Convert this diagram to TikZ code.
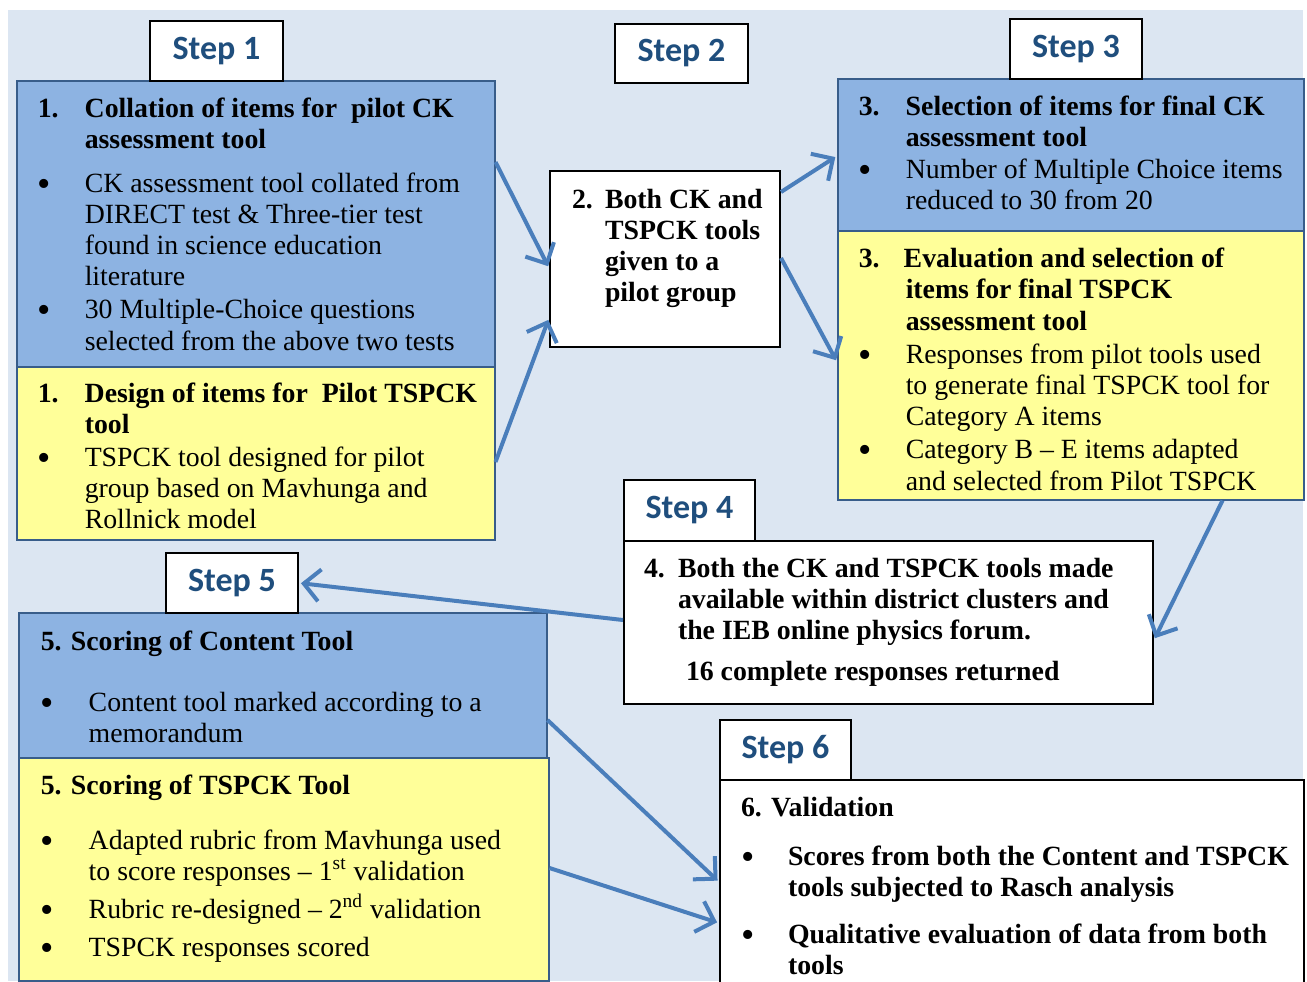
\documentclass[tikz,border=0pt]{standalone}
\usepackage{fontspec}
\setmainfont{Liberation Serif}
\newfontfamily\stepfont{Carlito}
\usetikzlibrary{arrows.meta}
\definecolor{pagebg}{RGB}{220,230,242}
\definecolor{ckblue}{RGB}{141,179,226}
\definecolor{tspyellow}{RGB}{255,255,153}
\definecolor{edgeblue}{RGB}{56,93,138}
\definecolor{arrowblue}{RGB}{74,126,187}
\definecolor{steptext}{RGB}{31,78,125}
\newcommand{\panel}[3]{\parbox[t][#2][t]{#1}{\raggedright\rightskip=-15pt plus 1fil\let\\\newline #3}}
\newcommand{\numline}[3]{\par\noindent\hangindent=#1\hangafter=1\makebox[#1][l]{#2}\strut\ignorespaces#3\par}
\newcommand{\blt}{\raisebox{-2pt}{\fontsize{19pt}{19pt}\selectfont\textbullet}}
\newcommand{\bulline}[2][23.5pt]{\numline{#1}{\blt}{#2}}
\newcommand{\headline}[1]{\par\noindent\strut\textbf{#1}\par}

\begin{document}
\begin{tikzpicture}[x=0.5pt,y=-0.5pt,
    box/.style={anchor=north west, inner ysep=0pt, inner xsep=10.5pt,
                font=\fontsize{13.9pt}{15.6pt}\selectfont},
    ckbox/.style={box, draw=edgeblue, line width=0.75pt, fill=ckblue},
    tspbox/.style={box, draw=edgeblue, line width=0.75pt, fill=tspyellow},
    plainbox/.style={box, draw=black, line width=1pt, fill=white},
    steplabel/.style={anchor=north west, draw=black, line width=1pt, fill=white,
                      text=steptext, font=\stepfont\bfseries\fontsize{17pt}{20pt}\selectfont},
    flow/.style={draw=arrowblue, line width=2pt, shorten >=1pt,
                 -{Straight Barb[length=8pt,width=16pt]}}]
  \useasboundingbox (0,0) rectangle (1307,981);
  \fill[pagebg] (8,10) rectangle (1303,981);

  % step 1
  \node[ckbox] (ck1) at (16,80) {\panel{218pt}{143pt}{\vspace*{7.6pt}
      \numline{23.5pt}{\textbf{1.}}{\textbf{Collation of items for\ \ pilot CK\\assessment tool}}
      \vspace{6pt}
      \bulline{CK assessment tool collated from\\DIRECT test \& Three-tier test\\found in science education\\literature}
      \vspace{1pt}
      \bulline{30 Multiple-Choice questions\\selected from the above two tests}}};
  \node[tspbox] (tsp1) at (16,366) {\panel{218pt}{86.5pt}{\vspace*{7.1pt}
      \numline{23.5pt}{\textbf{1.}}{\textbf{Design of items for\ \ Pilot TSPCK\\tool}}
      \vspace{0.5pt}
      \bulline{TSPCK tool designed for pilot\\group based on Mavhunga and\\Rollnick model}}};

  % step 2
  \node[plainbox, inner xsep=11pt] (pilot) at (549,170) {\panel{93pt}{88pt}{\vspace*{7.6pt}
      \numline{16.5pt}{\textbf{2.}}{\textbf{Both CK and\\TSPCK tools\\given to a\\pilot group}}}};

  % step 3
  \node[ckbox] (ck3) at (837,78) {\panel{212pt}{76pt}{\vspace*{7.6pt}
      \numline{23.5pt}{\textbf{3.}}{\textbf{Selection of items for final CK\\assessment tool}}
      \bulline{Number of Multiple Choice items\\reduced to 30 from 20}}};
  \node[tspbox] (tsp3) at (837,230) {\panel{212pt}{134.5pt}{\vspace*{7.6pt}
      \numline{23.5pt}{\textbf{3.}}{\textbf{\hspace{-1pt}Evaluation and selection of\\items for final TSPCK\\assessment tool}}
      \vspace{1pt}
      \bulline{Responses from pilot tools used\\to generate final TSPCK tool for\\Category A items}
      \vspace{1pt}
      \bulline{Category B -- E items adapted\\and selected from Pilot TSPCK}}};

  % step 4
  \node[plainbox, inner xsep=10pt] (avail) at (623,540) {\panel{244.5pt}{81.5pt}{\vspace*{7.1pt}
      \numline{17pt}{\textbf{4.}}{\textbf{Both the CK and TSPCK tools made\\available within district clusters and\\the IEB online physics forum.}}
      \vspace{5pt}
      \noindent\hspace*{21pt}\strut\textbf{16 complete responses returned}}};

  % step 5
  \node[ckbox, inner xsep=11pt] (ck5) at (18,612) {\panel{242pt}{72.5pt}{\vspace*{8.1pt}
      \headline{5. Scoring of Content Tool}
      \vspace{14.5pt}
      \bulline[24pt]{Content tool marked according to a\\memorandum}}};
  \node[tspbox, inner xsep=11pt] (tsp5) at (18,757) {\panel{243pt}{111.5pt}{\vspace*{7.6pt}
      \headline{5. Scoring of TSPCK Tool}
      \vspace{11.5pt}
      \bulline[24pt]{Adapted rubric from Mavhunga used\\to score responses -- 1\textsuperscript{st} validation}
      \vspace{3.5pt}
      \bulline[24pt]{Rubric re-designed -- 2\textsuperscript{nd} validation}
      \vspace{3.5pt}
      \bulline[24pt]{TSPCK responses scored}}};

  % step 6
  \node[plainbox] (valid) at (719,779) {\panel{271pt}{110pt}{\vspace*{7.1pt}
      \headline{6. Validation}
      \vspace{9pt}
      \bulline{\textbf{Scores from both the Content and TSPCK\\tools subjected to Rasch analysis}}
      \vspace{8pt}
      \bulline{\textbf{Qualitative evaluation of data from both\\tools}}}};

  % step labels
  \node[steplabel, minimum width=66.5pt, minimum height=30pt] (step1) at (149,20) {Step 1};
  \node[steplabel, minimum width=66.5pt, minimum height=29.5pt] (step2) at (614,23) {Step 2};
  \node[steplabel, minimum width=66pt, minimum height=30pt] (step3) at (1009,18) {Step 3};
  \node[steplabel, minimum width=65.5pt, minimum height=30.5pt] (step4) at (623,479) {Step 4};
  \node[steplabel, minimum width=66pt, minimum height=30pt] (step5) at (165,552) {Step 5};
  \node[steplabel, minimum width=65.5pt, minimum height=30pt] (step6) at (719,719) {Step 6};

  \draw[flow] ([yshift=-41pt]ck1.north east) -- ([yshift=-49pt]pilot.north west);
  \draw[flow] ([yshift=-48pt]tsp1.north east) -- ([yshift=-74pt]pilot.north west);
  \draw[flow] ([yshift=-11pt]pilot.north east) -- ([yshift=-39pt]ck3.north west);
  \draw[flow] ([yshift=-44pt]pilot.north east) -- ([yshift=-66pt]tsp3.north west);
  \draw[flow] ([xshift=-41pt]tsp3.south east) -- ([yshift=-50pt]avail.north east);
  \draw[flow] ([yshift=-40pt]avail.north west) -- (step5.east);
  \draw[flow] ([yshift=-54pt]ck5.north east) -- ([yshift=-51.5pt]valid.north west);
  \draw[flow] ([yshift=-55.5pt]tsp5.north east) -- ([yshift=-72pt]valid.north west);
\end{tikzpicture}
\end{document}
